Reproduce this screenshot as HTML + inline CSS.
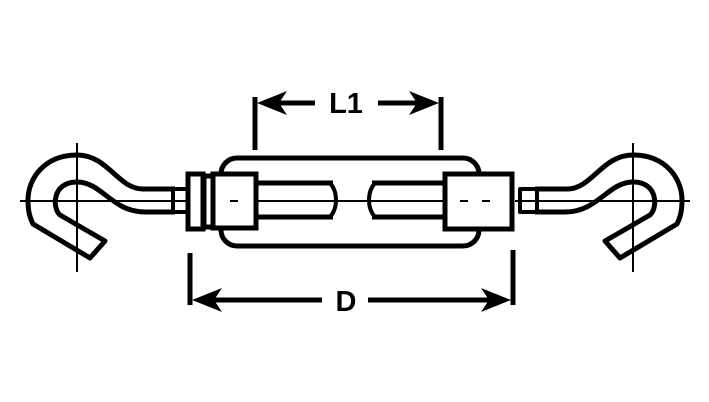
<!DOCTYPE html>
<html><head><style>html,body{margin:0;padding:0;background:#fff}svg{display:block}</style></head>
<body>
<svg width="709" height="402" viewBox="0 0 709 402" xmlns="http://www.w3.org/2000/svg">
<defs>
<g id="hook" fill="none" stroke="#000" stroke-width="5" stroke-linejoin="round">
 <path d="M175,189 L143,189 C118,189 108,155 77,155 C45,155 28,178 28,200 C28,212 30,218 33,224 L90,258 L105,241 L60,215 C52,208 52,182 77,182 C102,182 112,212 145,212 L175,212"/>
 <rect x="173" y="189" width="17" height="23" stroke-width="4"/>
 <line x1="77" y1="143" x2="77" y2="272" stroke-width="2"/>
 <line x1="20" y1="201" x2="195" y2="201" stroke-width="2"/>
</g>
</defs>
<use href="#hook"/>
<use href="#hook" transform="translate(710,0) scale(-1,1)"/>
<g fill="none" stroke="#000" stroke-width="5">
 <rect x="221" y="158" width="258" height="88" rx="16"/>
 <rect x="188" y="174" width="15" height="55" fill="#fff"/>
 <rect x="204" y="176" width="9" height="51" fill="#fff"/>
 <rect x="213" y="174" width="43" height="54" fill="#fff"/>
 <rect x="445" y="174" width="67" height="55" fill="#fff"/>
 <line x1="256" y1="183" x2="333" y2="183"/>
 <line x1="256" y1="217" x2="333" y2="217"/>
 <line x1="372" y1="183" x2="445" y2="183"/>
 <line x1="372" y1="217" x2="445" y2="217"/>
 <path d="M330,183 C338,192 338,208 330,217" stroke-width="4"/>
 <path d="M375,183 C367,192 367,208 375,217" stroke-width="4"/>
 <line x1="256" y1="201" x2="445" y2="201" stroke-width="2"/>
 <line x1="230" y1="201" x2="238" y2="201" stroke-width="2"/>
 <line x1="460" y1="201" x2="468" y2="201" stroke-width="2"/>
 <line x1="482" y1="201" x2="490" y2="201" stroke-width="2"/>
 <line x1="255" y1="97" x2="255" y2="150"/>
 <line x1="441" y1="97" x2="441" y2="150"/>
 <line x1="190" y1="253" x2="190" y2="305"/>
 <line x1="513" y1="250" x2="513" y2="305"/>
 <line x1="270" y1="103" x2="315" y2="103"/>
 <line x1="378" y1="103" x2="425" y2="103"/>
 <line x1="205" y1="300" x2="322" y2="300"/>
 <line x1="368" y1="300" x2="497" y2="300"/>
</g>
<g fill="#000">
 <path d="M257,103 L287,91 L279,103 L287,115 Z"/>
 <path d="M439,103 L409,91 L417,103 L409,115 Z"/>
 <path d="M192,300 L222,288 L214,300 L222,312 Z"/>
 <path d="M511,300 L481,288 L489,300 L481,312 Z"/>
</g>
<text x="346" y="113" font-family="Liberation Sans, sans-serif" font-weight="bold" font-size="29" text-anchor="middle">L1</text>
<text x="346" y="311" font-family="Liberation Sans, sans-serif" font-weight="bold" font-size="29" text-anchor="middle">D</text>
</svg>
</body></html>
